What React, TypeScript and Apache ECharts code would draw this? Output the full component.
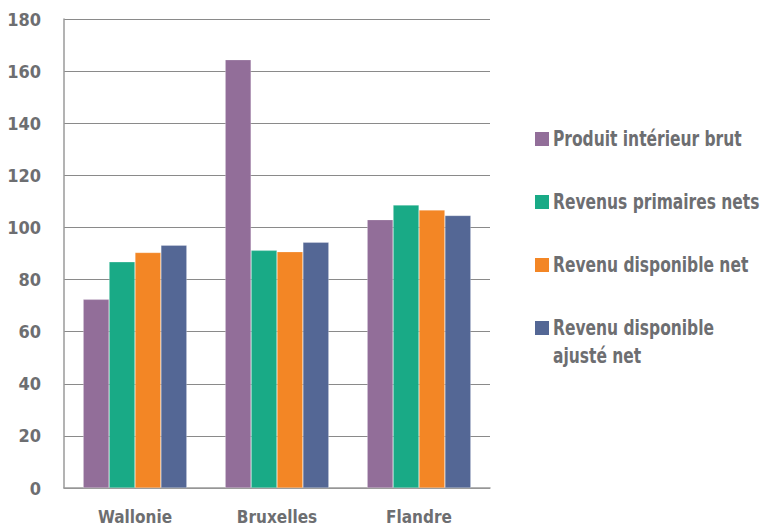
import React, { useEffect, useRef } from "react";
import * as echarts from "echarts";

const categories = ["Wallonie", "Bruxelles", "Flandre"];
const seriesNames = [
  "Produit intérieur brut",
  "Revenus primaires nets",
  "Revenu disponible net",
  "Revenu disponible ajusté net",
];
const legendLabels = [
  "Produit intérieur brut",
  "Revenus primaires nets",
  "Revenu disponible net",
  "Revenu disponible\najusté net",
];
const pibValues = [72.4, 164.4, 103.0];
const primairesValues = [86.8, 91.2, 108.6];
const disponibleValues = [90.4, 90.7, 106.7];
const ajusteValues = [93.2, 94.3, 104.6];
const colors = ["#926E99", "#19AA86", "#F38625", "#546795"];

const TEXT = "#6D6E71";
const FONT_NUM = "'DejaVu Sans Condensed', 'DejaVu Sans', sans-serif";

export default function App() {
  const ref = useRef<HTMLDivElement>(null);
  useEffect(() => {
    if (!ref.current) return;
    const chart = echarts.init(ref.current, undefined, { renderer: "svg" });
    const values = [pibValues, primairesValues, disponibleValues, ajusteValues];
    const legendTop = 139;
    const legendGap = 63;
    chart.setOption({
      animation: false,
      grid: { left: 64, right: 274, top: 19, bottom: 38 },
      xAxis: {
        type: "category",
        data: categories,
        axisLine: { show: true, lineStyle: { color: "#9A9A9A", width: 1.5 } },
        axisTick: { show: false },
        axisLabel: {
          color: TEXT,
          fontFamily: FONT_NUM,
          fontWeight: "bold",
          fontSize: 17,
          margin: 20,
        },
      },
      yAxis: {
        type: "value",
        min: 0,
        max: 180,
        interval: 20,
        axisLine: { show: true, lineStyle: { color: "#9A9A9A", width: 1.5 } },
        axisTick: { show: false },
        splitLine: { lineStyle: { color: "#8A8A8A", width: 1.2 } },
        axisLabel: {
          color: TEXT,
          fontFamily: FONT_NUM,
          fontWeight: "bold",
          fontSize: 18,
          margin: 23,
        },
      },
      series: seriesNames.map((name, i) => ({
        name,
        type: "bar",
        data: values[i],
        barGap: "0%",
        barCategoryGap: "27%",
        itemStyle: { color: colors[i], borderColor: "rgba(255,255,255,0.5)", borderWidth: 0.5 },
      })),
      graphic: legendLabels.flatMap((label, i) => [
        {
          type: "rect",
          shape: { x: 535, y: legendTop + i * legendGap - 7, width: 14, height: 14 },
          style: { fill: colors[i] },
        },
        {
          type: "text",
          x: 553,
          y: legendTop + i * legendGap - 14,
          scaleX: 0.82,
          style: {
            text: label,
            fill: TEXT,
            font: `bold 21px ${FONT_NUM}`,
            lineHeight: 28,
            textVerticalAlign: "top",
          },
        },
      ]),
    });
    return () => chart.dispose();
  }, []);
  return <div ref={ref} style={{ width: 764, height: 526, position: "absolute", left: 0, top: 0 }} />;
}
